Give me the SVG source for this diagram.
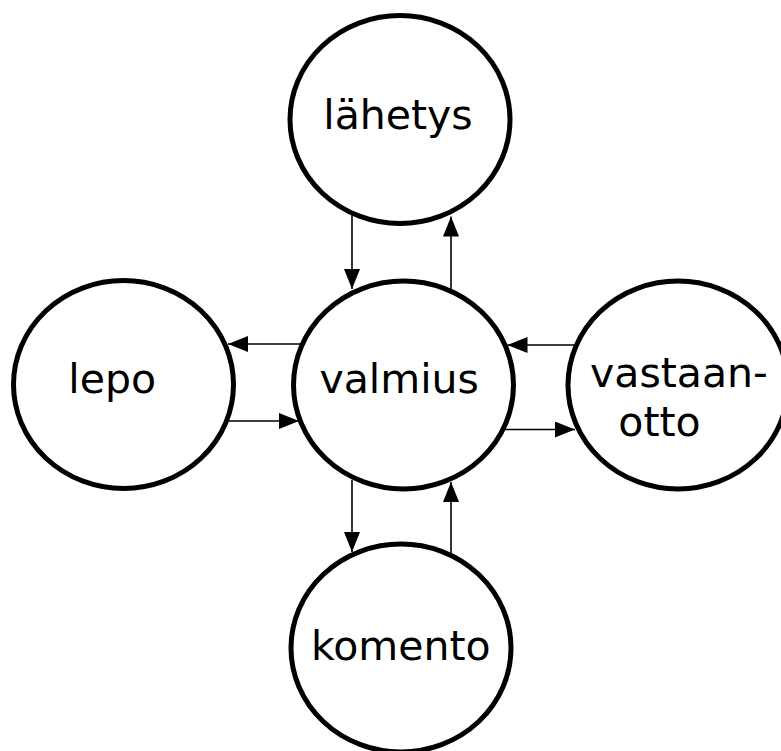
<svg xmlns="http://www.w3.org/2000/svg" width="781" height="751" viewBox="0 0 781 751">
<style>
.node{fill:#fff;stroke:#000;stroke-width:5}
.lbl{font-family:"DejaVu Sans",sans-serif;font-size:41px;fill:#000}
.edge{stroke:#000;stroke-width:1.6;fill:none;marker-end:url(#ah)}
</style>
<defs>
<marker id="ah" markerUnits="userSpaceOnUse" markerWidth="20" markerHeight="16" refX="20" refY="8" orient="auto" viewBox="0 0 20 16">
<path d="M0,0 L20,8 L0,16 z" fill="#000"/>
</marker>
</defs>
<rect width="781" height="751" fill="#fff"/>
<g id="lahetys"><ellipse class="node" cx="400" cy="119.5" rx="110" ry="104"/><text class="lbl" x="398" y="128.5" text-anchor="middle">lähetys</text></g>
<g id="valmius"><ellipse class="node" cx="403.5" cy="385" rx="110" ry="104"/><text class="lbl" x="399.2" y="392.7" text-anchor="middle">valmius</text></g>
<g id="lepo"><ellipse class="node" cx="123.5" cy="384.5" rx="110" ry="104"/><text class="lbl" x="68.3" y="393.3">lepo</text></g>
<g id="vastaanotto"><ellipse class="node" cx="678" cy="385" rx="110" ry="104"/><text class="lbl" x="590" y="386.7">vastaan-</text><text class="lbl" x="618.3" y="436">otto</text></g>
<g id="komento"><ellipse class="node" cx="401" cy="648" rx="110" ry="104"/><text class="lbl" x="400.8" y="660" text-anchor="middle">komento</text></g>
<g id="edges">
<path class="edge" d="M352,213 L352,289"/>
<path class="edge" d="M451,291 L451,216.5"/>
<path class="edge" d="M302.5,344 L228,344"/>
<path class="edge" d="M226.5,421 L299,421"/>
<path class="edge" d="M574,345 L507.5,345"/>
<path class="edge" d="M505,429.5 L575,429.5"/>
<path class="edge" d="M352,480 L352,552"/>
<path class="edge" d="M451,553 L451,482"/>
</g>
</svg>
